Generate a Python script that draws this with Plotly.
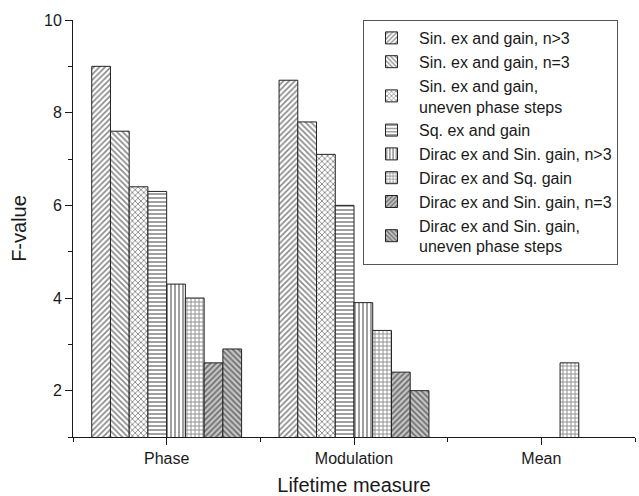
import plotly.graph_objects as go

categories = ["Phase", "Modulation", "Mean"]
x_pos = [0, 1, 2]

series_names = [
    "Sin. ex and gain, n>3",
    "Sin. ex and gain, n=3",
    "Sin. ex and gain,<br>uneven phase steps",
    "Sq. ex and gain",
    "Dirac ex and Sin. gain, n>3",
    "Dirac ex and Sq. gain",
    "Dirac ex and Sin. gain, n=3",
    "Dirac ex and Sin. gain,<br>uneven phase steps",
]

sin_ngt3 = [9.0, 8.7, None]
sin_n3 = [7.6, 7.8, None]
sin_uneven = [6.4, 7.1, None]
sq_ex_gain = [6.3, 6.0, None]
dirac_sin_ngt3 = [4.3, 3.9, None]
dirac_sq = [4.0, 3.3, 2.6]
dirac_sin_n3 = [2.6, 2.4, None]
dirac_sin_uneven = [2.9, 2.0, None]

series_values = [sin_ngt3, sin_n3, sin_uneven, sq_ex_gain,
                 dirac_sin_ngt3, dirac_sq, dirac_sin_n3, dirac_sin_uneven]

shapes = ["/", "\\", "x", "-", "|", "+", "/", "\\"]
fills = ["white"] * 6 + ["#c4c4c4"] * 2

fig = go.Figure()
for name, vals, shp, fc in zip(series_names, series_values, shapes, fills):
    fig.add_trace(go.Bar(
        x=x_pos, y=vals, name=name,
        marker=dict(
            color=fc,
            line=dict(color="#222222", width=1),
            pattern=dict(shape=shp, fgcolor="#111111", bgcolor=fc,
                         size=4, solidity=0.4, fillmode="overlay"),
        ),
    ))

font_family = "Arial, Liberation Sans, sans-serif"
fig.update_layout(
    width=639, height=496,
    margin=dict(l=73, r=4, t=20, b=59),
    paper_bgcolor="white", plot_bgcolor="white",
    barmode="group", bargap=0.2, bargroupgap=0,
    font=dict(family=font_family, size=16, color="#1a1a1a"),
    legend=dict(
        x=0.516, y=1.0, xanchor="left", yanchor="top",
        bordercolor="#555555", borderwidth=1,
        bgcolor="white", font=dict(size=16, color="#1a1a1a"),
        tracegroupgap=0, itemwidth=45,
    ),
    showlegend=True,
)
fig.update_xaxes(
    range=[-0.5, 2.5],
    tickmode="array", tickvals=x_pos, ticktext=categories,
    ticks="outside", ticklen=7, tickwidth=1, tickcolor="#1a1a1a",
    minor=dict(tickmode="array", tickvals=[-0.5, 0.5, 1.5, 2.5],
               ticks="outside", ticklen=4, tickwidth=1, tickcolor="#1a1a1a"),
    showline=True, linecolor="#1a1a1a", linewidth=1,
    showgrid=False, zeroline=False,
    title=dict(text="Lifetime measure", font=dict(size=20), standoff=12),
)
fig.update_yaxes(
    range=[1, 10],
    tick0=0, dtick=2,
    ticks="outside", ticklen=7, tickwidth=1, tickcolor="#1a1a1a",
    minor=dict(tick0=0, dtick=1, ticks="outside", ticklen=4,
               tickwidth=1, tickcolor="#1a1a1a"),
    showline=True, linecolor="#1a1a1a", linewidth=1,
    showgrid=False, zeroline=False,
    title=dict(text="F-value", font=dict(size=20), standoff=12),
)

fig.write_html("out.html", config={"displayModeBar": False},
               post_script="document.body.style.margin='0';")
